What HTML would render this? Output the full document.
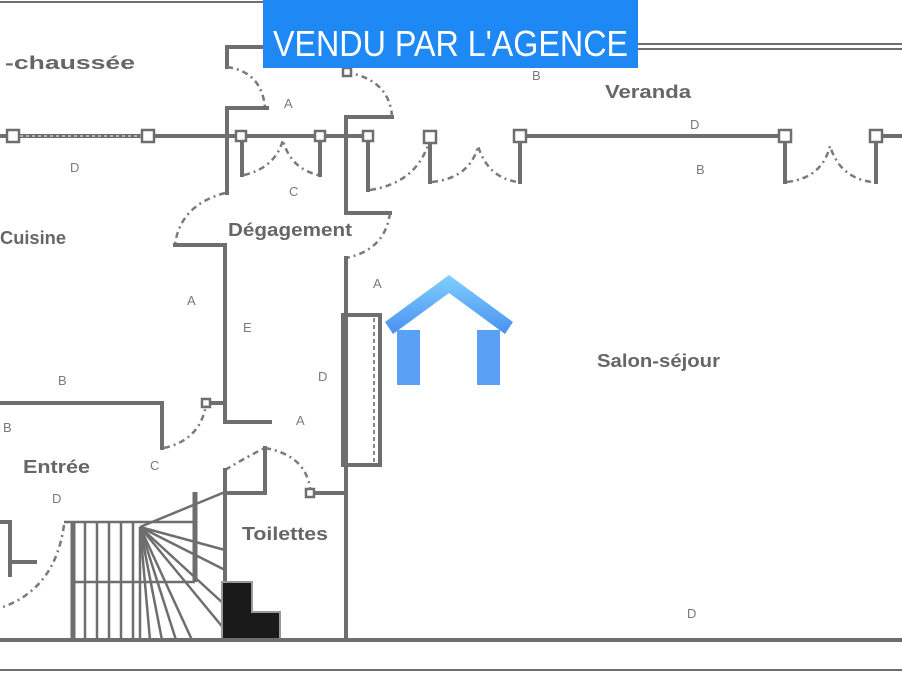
<!DOCTYPE html>
<html><head><meta charset="utf-8"><style>
html,body{margin:0;padding:0;background:#fff;}
svg{display:block}
.w{stroke:#6e6e6e;stroke-width:4;fill:none;stroke-linecap:square}
.t{stroke:#6e6e6e;stroke-width:2;fill:none}
.d{stroke:#7a7a7a;stroke-width:2.5;fill:none;stroke-dasharray:6 4 2 4}
.lb{font-family:"Liberation Sans",sans-serif;font-weight:bold;fill:#666;font-size:18px}
.sm{font-family:"Liberation Sans",sans-serif;fill:#7a7a7a;font-size:13px}
.sq{fill:#fff;stroke:#6e6e6e;stroke-width:2.5}
</style></head><body>
<svg width="902" height="678" viewBox="0 0 902 678">
<rect width="902" height="678" fill="#fff"/>
<line x1="0" y1="2" x2="265" y2="2" class="t"/>
<line x1="637" y1="44" x2="902" y2="44" class="t"/>
<line x1="637" y1="49" x2="902" y2="49" class="t"/>
<polyline points="263,47 227,47 227,67" class="w"/>
<path d="M227,67 Q262,72 265,108" class="d"/>
<polyline points="267,108 227,108 227,193" class="w"/>
<line x1="0" y1="136" x2="242" y2="136" class="w"/>
<line x1="20" y1="136" x2="145" y2="136" stroke="#fff" stroke-width="1" stroke-dasharray="3 3"/>
<rect x="7" y="130" width="12" height="12" class="sq"/>
<rect x="142" y="130" width="12" height="12" class="sq"/>
<line x1="242" y1="136" x2="242" y2="175" class="w"/>
<path d="M244,175 Q275,168 283,140 Q290,168 318,175" class="d"/>
<line x1="242" y1="136" x2="320" y2="136" class="w"/>
<rect x="236" y="131" width="10" height="10" class="sq"/>
<polyline points="320,175 320,136 368,136 368,190" class="w"/>
<rect x="315" y="131" width="10" height="10" class="sq"/>
<rect x="363" y="131" width="10" height="10" class="sq"/>
<polyline points="392,117 346,117 346,213 390,213" class="w"/>
<path d="M346,72 Q390,80 392,117" class="d"/>
<rect x="343" y="68" width="8" height="8" class="sq"/>
<path d="M370,190 Q415,183 428,145" class="d"/>
<line x1="430" y1="136" x2="430" y2="182" class="w"/>
<rect x="424" y="131" width="12" height="12" class="sq"/>
<path d="M432,182 Q470,178 478,146 Q488,178 518,182" class="d"/>
<line x1="520" y1="136" x2="520" y2="182" class="w"/>
<line x1="520" y1="136" x2="785" y2="136" class="w"/>
<rect x="514" y="130" width="12" height="12" class="sq"/>
<line x1="785" y1="136" x2="785" y2="182" class="w"/>
<rect x="779" y="130" width="12" height="12" class="sq"/>
<path d="M787,182 Q822,178 830,146 Q840,178 872,182" class="d"/>
<line x1="876" y1="136" x2="876" y2="182" class="w"/>
<line x1="876" y1="136" x2="902" y2="136" class="w"/>
<rect x="870" y="130" width="12" height="12" class="sq"/>
<path d="M225,193 Q180,205 175,245" class="d"/>
<polyline points="175,245 225,245 225,422 270,422" class="w"/>
<path d="M390,213 Q385,250 346,258" class="d"/>
<line x1="346" y1="258" x2="346" y2="640" class="w"/>
<rect x="343" y="315" width="37" height="150" fill="none" stroke="#6e6e6e" stroke-width="4"/>
<line x1="374" y1="318" x2="374" y2="462" stroke="#888" stroke-width="2" stroke-dasharray="4 3"/>
<polyline points="0,403 162,403 162,448" class="w"/>
<line x1="206" y1="403" x2="225" y2="403" class="w"/>
<rect x="202" y="399" width="8" height="8" class="sq"/>
<path d="M164,448 Q200,440 206,405" class="d"/>
<path d="M225,470 Q250,455 265,448" class="d"/>
<line x1="265" y1="448" x2="265" y2="493" class="w"/>
<polyline points="225,470 225,640" class="w"/>
<line x1="225" y1="493" x2="265" y2="493" class="w"/>
<path d="M265,448 Q305,455 310,488" class="d"/>
<line x1="310" y1="493" x2="343" y2="493" class="w"/>
<rect x="306" y="489" width="8" height="8" class="sq"/>
<line x1="10" y1="522" x2="10" y2="575" class="w"/>
<line x1="0" y1="522" x2="10" y2="522" class="w"/>
<line x1="10" y1="562" x2="35" y2="562" class="w"/>
<path d="M64,525 Q55,590 0,608" class="d"/>
<g stroke="#6e6e6e" stroke-width="2.5">
<line x1="64" y1="522" x2="195" y2="522"/>
<line x1="73" y1="582" x2="195" y2="582"/>
<line x1="195" y1="492" x2="195" y2="582" stroke-width="5"/>
<line x1="73" y1="522" x2="73" y2="640" stroke-width="5"/>
<line x1="85" y1="522" x2="85" y2="640"/><line x1="97" y1="522" x2="97" y2="640"/>
<line x1="109" y1="522" x2="109" y2="640"/><line x1="121" y1="522" x2="121" y2="640"/>
<line x1="133" y1="522" x2="133" y2="640"/>
<line x1="140" y1="527" x2="225" y2="492"/>
<line x1="140" y1="527" x2="225" y2="550"/>
<line x1="140" y1="527" x2="225" y2="570"/>
<line x1="140" y1="527" x2="225" y2="605"/>
<line x1="140" y1="527" x2="225" y2="630"/>
<line x1="140" y1="527" x2="192" y2="640"/>
<line x1="140" y1="527" x2="176" y2="640"/>
<line x1="140" y1="527" x2="162" y2="640"/>
<line x1="140" y1="527" x2="150" y2="640"/>
<line x1="140" y1="527" x2="140" y2="640"/>
</g>
<path d="M222,582 h30 v30 h28 v28 h-58 z" fill="#1a1a1a" stroke="#999" stroke-width="2"/>
<line x1="0" y1="640" x2="902" y2="640" class="w"/>
<line x1="0" y1="670" x2="902" y2="670" class="t"/>
<text x="5" y="69" class="lb" font-size="22" textLength="130" lengthAdjust="spacingAndGlyphs">-chaussée</text>
<text x="0" y="244" class="lb" textLength="66" lengthAdjust="spacingAndGlyphs">Cuisine</text>
<text x="228" y="236" class="lb" textLength="124" lengthAdjust="spacingAndGlyphs">Dégagement</text>
<text x="605" y="98" class="lb" font-size="16" textLength="86" lengthAdjust="spacingAndGlyphs">Veranda</text>
<text x="597" y="367" class="lb" textLength="123" lengthAdjust="spacingAndGlyphs">Salon-séjour</text>
<text x="23" y="473" class="lb" textLength="67" lengthAdjust="spacingAndGlyphs">Entrée</text>
<text x="242" y="540" class="lb" textLength="86" lengthAdjust="spacingAndGlyphs">Toilettes</text>
<text x="70" y="172" class="sm">D</text>
<text x="284" y="108" class="sm">A</text>
<text x="289" y="196" class="sm">C</text>
<text x="532" y="80" class="sm">B</text>
<text x="690" y="129" class="sm">D</text>
<text x="696" y="174" class="sm">B</text>
<text x="373" y="288" class="sm">A</text>
<text x="187" y="305" class="sm">A</text>
<text x="243" y="332" class="sm">E</text>
<text x="318" y="381" class="sm">D</text>
<text x="296" y="425" class="sm">A</text>
<text x="58" y="385" class="sm">B</text>
<text x="3" y="432" class="sm">B</text>
<text x="150" y="470" class="sm">C</text>
<text x="52" y="503" class="sm">D</text>
<text x="687" y="618" class="sm">D</text>
<defs><linearGradient id="g" x1="0" y1="0" x2="0" y2="1"><stop offset="0" stop-color="#7fd0ff"/><stop offset="1" stop-color="#4a90f0"/></linearGradient></defs>
<path d="M385,322 L449,275 L513,322 L505,334 L449,293 L393,334 Z" fill="url(#g)"/>
<rect x="397" y="330" width="23" height="55" fill="#5aa0f4"/>
<rect x="477" y="330" width="23" height="55" fill="#5aa0f4"/>
<rect x="263" y="0" width="375" height="68" fill="#1e88f5"/>
<text x="273" y="56" font-family="Liberation Sans,sans-serif" font-size="36" fill="#fff" textLength="355" lengthAdjust="spacingAndGlyphs">VENDU PAR L'AGENCE</text>
</svg>
</body></html>
